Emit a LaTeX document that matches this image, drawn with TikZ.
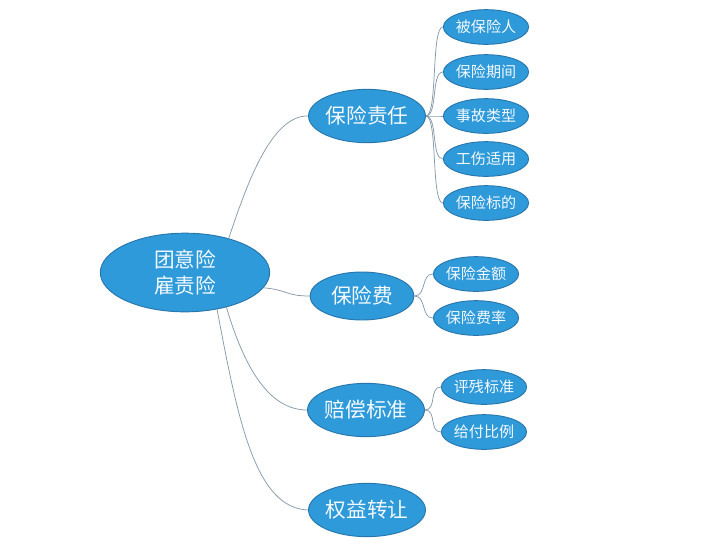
\documentclass[tikz,border=0pt]{standalone}
\usepackage{fontspec}
\newfontfamily\cjk{Noto Sans CJK SC}
\usepackage{tikz}
\usetikzlibrary{shapes.geometric}
\definecolor{nodeblue}{RGB}{46,154,218}
\definecolor{nodeedge}{RGB}{40,118,172}
\definecolor{linkgray}{RGB}{132,152,170}

\begin{document}
\begin{tikzpicture}[x=0.75pt,y=0.75pt,
  bubble/.style={ellipse,draw=nodeedge,line width=0.7pt,fill=nodeblue,inner sep=0pt,
                 text=white!94!nodeblue,align=center},
  hub/.style={bubble,minimum width=127pt,minimum height=59pt,
              font=\cjk\fontsize{15.5}{19}\selectfont},
  topic/.style={bubble,minimum width=86pt,minimum height=40pt,
                font=\cjk\fontsize{15.5}{19}\selectfont},
  leaf/.style={bubble,minimum width=62pt,minimum height=26pt,
               font=\cjk\fontsize{11.3}{13}\selectfont},
  link/.style={draw=linkgray,line width=0.55pt}]
\useasboundingbox (0,0) rectangle (701,-558);
% root
\node[hub] (main) at (185,-272.5) {团意险\\雇责险};
% first level
\node[topic] (duty) at (367,-116) {保险责任};
\node[topic,minimum width=78pt,minimum height=36pt] (fee) at (362,-296) {保险费};
\node[topic] (comp) at (366,-410) {赔偿标准};
\node[topic] (xfer) at (367,-510) {权益转让};
% second level
\node[leaf] (d1) at (486,-27) {被保险人};
\node[leaf] (d2) at (486,-72) {保险期间};
\node[leaf] (d3) at (486,-116) {事故类型};
\node[leaf] (d4) at (486,-159) {工伤适用};
\node[leaf] (d5) at (486,-203) {保险标的};
\node[leaf] (f1) at (476,-274) {保险金额};
\node[leaf] (f2) at (476,-318) {保险费率};
\node[leaf] (c1) at (484,-387) {评残标准};
\node[leaf] (c2) at (484,-432) {给付比例};
% links from root
\draw[link] (main.38) .. controls (245,-190) and (270,-115) .. (duty.west);
\draw[link] (main.-11) .. controls (288,-290) and (286,-296) .. (fee.west);
\draw[link] (main.-40) .. controls (245,-370) and (270,-410) .. (comp.west);
\draw[link] (main.-49) .. controls (238,-420) and (255,-508) .. (xfer.west);
% links to leaves
\foreach \n in {d1,d2,d3,d4,d5}
  \draw[link] (duty.east) .. controls +(12,0) and +(-12,0) .. (\n.west);
\foreach \n in {f1,f2}
  \draw[link] (fee.east) .. controls +(12,0) and +(-12,0) .. (\n.west);
\foreach \n in {c1,c2}
  \draw[link] (comp.east) .. controls +(12,0) and +(-12,0) .. (\n.west);
\end{tikzpicture}
\end{document}
